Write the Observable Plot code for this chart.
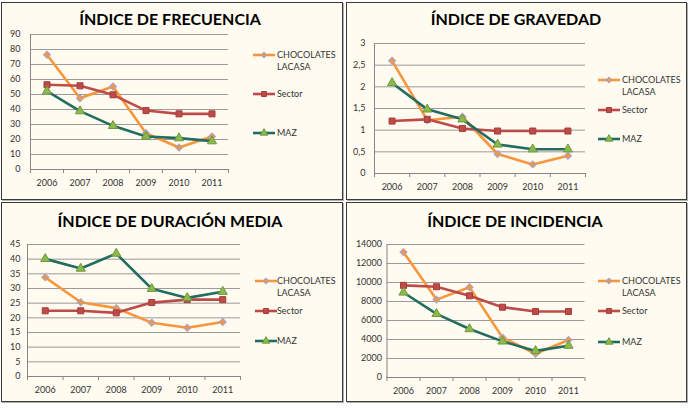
<!DOCTYPE html>
<html><head><meta charset="utf-8">
<script src="https://cdn.jsdelivr.net/npm/d3@7"></script>
<script src="https://cdn.jsdelivr.net/npm/@observablehq/plot@0.6"></script>
<style>
body{margin:0;background:#fff;font-family:Lato,sans-serif;}
#root{position:relative;width:694px;height:408px;overflow:hidden;background:#fff;}
.panel{position:absolute;box-sizing:border-box;border:1px solid #3a3a3a;background:#fffbf0;box-shadow:1px 1px 0 #b0b0b0;}
.panel > svg.plot{position:absolute;left:0;top:0;overflow:visible;background:transparent;}
.title{position:absolute;white-space:nowrap;font:bold 16px Lato,sans-serif;color:#000;transform:translateX(-50%);line-height:16px;}
.legtxt{position:absolute;font:9px Lato,sans-serif;color:#333;line-height:12px;white-space:nowrap;}
.legsw{position:absolute;overflow:visible;}
</style>
</head><body><div id="root"></div>
<script>
// ---------- data ----------
const years = ["2006", "2007", "2008", "2009", "2010", "2011"];
const seriesNames = ["CHOCOLATES LACASA", "Sector", "MAZ"];

const frecuenciaLacasa = [76.5, 47.5, 55.3, 24.2, 14.7, 22.0];
const frecuenciaSector = [56.5, 55.8, 49.8, 39.3, 37.1, 37.1];
const frecuenciaMaz    = [52.2, 38.9, 29.1, 22.0, 20.9, 18.9];
const frecuenciaTicks  = [0, 10, 20, 30, 40, 50, 60, 70, 80, 90];

const gravedadLacasa = [2.60, 1.23, 1.31, 0.45, 0.21, 0.41];
const gravedadSector = [1.21, 1.25, 1.04, 0.98, 0.98, 0.98];
const gravedadMaz    = [2.09, 1.48, 1.25, 0.67, 0.56, 0.56];
const gravedadTicks  = [0, 0.5, 1, 1.5, 2, 2.5, 3];

const duracionLacasa = [33.8, 25.3, 23.3, 18.3, 16.6, 18.6];
const duracionSector = [22.4, 22.4, 21.7, 25.2, 26.2, 26.2];
const duracionMaz    = [40.1, 36.8, 41.9, 29.9, 26.8, 28.9];
const duracionTicks  = [0, 5, 10, 15, 20, 25, 30, 35, 40, 45];

const incidenciaLacasa = [13200, 8200, 9500, 4200, 2500, 3950];
const incidenciaSector = [9700, 9550, 8600, 7400, 6950, 6950];
const incidenciaMaz    = [8950, 6700, 5100, 3800, 2800, 3350];
const incidenciaTicks  = [0, 2000, 4000, 6000, 8000, 10000, 12000, 14000];

const titles = ["ÍNDICE DE FRECUENCIA", "ÍNDICE DE GRAVEDAD", "ÍNDICE DE DURACIÓN MEDIA", "ÍNDICE DE INCIDENCIA"];

// ---------- styles ----------
const styles = [
  {stroke: "#f7963c", symbol: "square", rotate: 45, fill: "#f7963c", mstroke: "#9ea4d2", r: 2.8},
  {stroke: "#be4b48", symbol: "square", rotate: 0, fill: "#be4b48", mstroke: "#a33e3b", r: 3.4},
  {stroke: "#236d60", symbol: "triangle", rotate: 0, fill: "#8cb84e", mstroke: "#6d9a3a", r: 3.4}
];

const panels = [
  {title: titles[0], vals: [frecuenciaLacasa, frecuenciaSector, frecuenciaMaz], ticks: frecuenciaTicks,
   box: [1, 2, 342, 198], m: [31, 114, 30, 28], ypad: 10, titleX: 168, titleTop: 8,
   leg: {lx: 250, tx: 275, ys: [52, 91, 130]}},
  {title: titles[1], vals: [gravedadLacasa, gravedadSector, gravedadMaz], ticks: gravedadTicks,
   box: [346, 2, 341, 198], m: [40, 101, 26, 27], ypad: 9, titleX: 169, titleTop: 8,
   leg: {lx: 250, tx: 275, ys: [77, 107, 136]}},
  {title: titles[2], vals: [duracionLacasa, duracionSector, duracionMaz], ticks: duracionTicks,
   box: [1, 202, 342, 200], m: [41, 102, 25, 25], ypad: 7, titleX: 168, titleTop: 10,
   leg: {lx: 252, tx: 275, ys: [78, 108, 138]}},
  {title: titles[3], vals: [incidenciaLacasa, incidenciaSector, incidenciaMaz], ticks: incidenciaTicks,
   box: [346, 202, 341, 200], m: [41, 101.5, 24, 39.5], ypad: 5, titleX: 168, titleTop: 10,
   leg: {lx: 250, tx: 275, ys: [78, 108, 139]}}
];

const root = document.getElementById("root");
const idx = years.map((_, i) => i);
const bounds = d3.range(-0.5, years.length, 1);
const fmtNum = d => String(d).replace(".", ",");

for (const p of panels) {
  const [left, top, w, h] = p.box;
  const div = document.createElement("div");
  div.className = "panel";
  Object.assign(div.style, {left: left + "px", top: top + "px", width: w + "px", height: h + "px"});
  root.appendChild(div);
  const iw = w - 2, ih = h - 2;

  const rows = [];
  p.vals.forEach((arr, s) => arr.forEach((v, i) => rows.push({series: seriesNames[s], s, i, year: years[i], value: v})));
  const ymax = p.ticks[p.ticks.length - 1];

  const marks = [
    Plot.gridY(p.ticks, {stroke: "#9a9a9a", strokeOpacity: 1}),
    Plot.ruleY([0], {stroke: "#868686"}),
    Plot.ruleX([-0.5], {stroke: "#868686"}),
    Plot.axisY(p.ticks, {tickSize: 0, tickPadding: p.ypad, tickFormat: fmtNum, fontSize: 9, fill: "#333", label: null}),
    Plot.axisX(bounds, {tickSize: 4, tickFormat: () => "", stroke: "#868686", label: null}),
    Plot.axisX(idx, {tickSize: 0, tickPadding: 10, tickFormat: i => years[i], fontSize: 9, fill: "#333", label: null})
  ];
  styles.forEach((st, s) => {
    const data = rows.filter(r => r.s === s);
    marks.push(Plot.line(data, {x: "i", y: "value", stroke: st.stroke, strokeWidth: 2.6, strokeLinejoin: "round"}));
  });
  styles.forEach((st, s) => {
    const data = rows.filter(r => r.s === s);
    marks.push(Plot.dot(data, {x: "i", y: "value", symbol: () => st.symbol, rotate: st.rotate, fill: st.fill, stroke: st.mstroke, strokeWidth: 1, r: st.r}));
  });

  const chart = Plot.plot({
    width: iw, height: ih,
    marginTop: p.m[0], marginRight: p.m[1], marginBottom: p.m[2], marginLeft: p.m[3],
    style: {background: "transparent", fontFamily: "Lato, sans-serif", fontSize: "9px", color: "#333"},
    x: {type: "linear", domain: [-0.5, years.length - 0.5], axis: null, label: null},
    y: {domain: [0, ymax], axis: null, label: null},
    symbol: {type: "identity"},
    marks
  });
  chart.classList.add("plot");
  div.appendChild(chart);

  const t = document.createElement("div");
  t.className = "title";
  t.textContent = p.title;
  t.style.left = p.titleX + "px";
  t.style.top = p.titleTop + "px";
  div.appendChild(t);

  // legend
  styles.forEach((st, s) => {
    const y = p.leg.ys[s];
    const ns = "http://www.w3.org/2000/svg";
    const sw = document.createElementNS(ns, "svg");
    sw.setAttribute("class", "legsw");
    sw.setAttribute("width", 24); sw.setAttribute("height", 12);
    sw.style.left = p.leg.lx + "px"; sw.style.top = (y - 6) + "px";
    const ln = document.createElementNS(ns, "line");
    ln.setAttribute("x1", 1); ln.setAttribute("x2", 23); ln.setAttribute("y1", 6); ln.setAttribute("y2", 6);
    ln.setAttribute("stroke", st.stroke); ln.setAttribute("stroke-width", 2.6);
    sw.appendChild(ln);
    const sym = {square: d3.symbolSquare, triangle: d3.symbolTriangle}[st.symbol];
    const path = document.createElementNS(ns, "path");
    path.setAttribute("d", d3.symbol(sym, Math.PI * (st.r - 0.6) ** 2)());
    path.setAttribute("transform", `translate(12,6) rotate(${st.rotate})`);
    path.setAttribute("fill", st.fill); path.setAttribute("stroke", st.mstroke);
    sw.appendChild(path);
    div.appendChild(sw);
    const tx = document.createElement("div");
    tx.className = "legtxt";
    const parts = seriesNames[s].split(" ");
    tx.innerHTML = parts.join("<br>");
    tx.style.left = p.leg.tx + "px";
    tx.style.top = (y - 6) + "px";
    div.appendChild(tx);
  });
}
</script>
</body></html>
